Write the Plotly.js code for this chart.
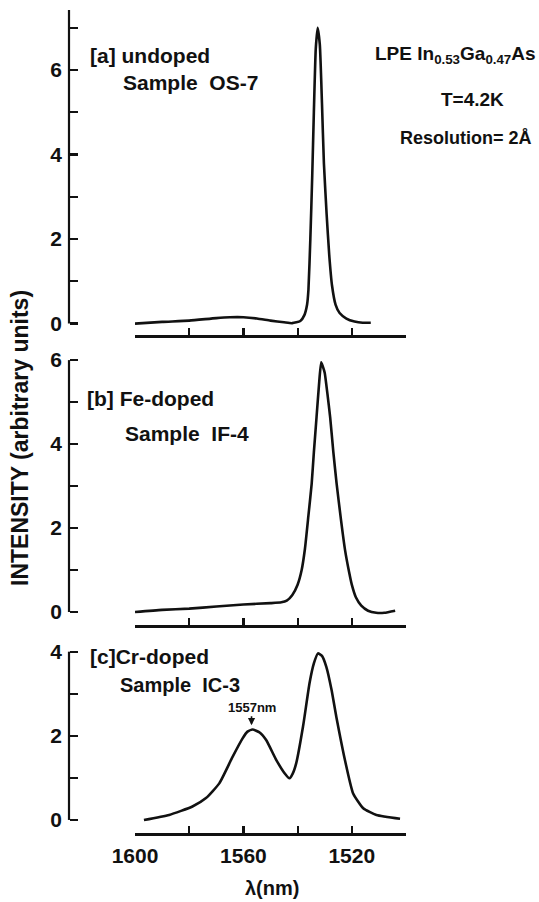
<!DOCTYPE html>
<html>
<head>
<meta charset="utf-8">
<script src="https://cdn.plot.ly/plotly-3.0.1.min.js"></script>
<style>html,body{margin:0;padding:0;background:#fff;}</style>
</head>
<body>
<div id="chart" style="width:539px;height:902px;"></div>
<script>
// ---- data (wavelength in nm, intensity in arbitrary units) ----
const nmA  = [1600,1590,1580,1570,1565,1560,1555,1550,1545,1542,1539,1537.5,1536.5,1536,1535.3,1534.6,1534,1533.3,1532.6,1531.8,1531,1530.3,1529.3,1528.3,1527.3,1526,1524.5,1522,1519,1516,1513];
const intA = [0.00,0.04,0.07,0.13,0.15,0.15,0.12,0.07,0.03,0.01,0.06,0.20,0.45,0.80,2.00,3.50,5.00,6.50,7.00,6.60,5.20,3.80,2.60,1.60,0.90,0.45,0.25,0.12,0.05,0.02,0.02];

const nmB  = [1600,1590,1580,1570,1560,1550,1546,1544,1542,1540,1538.5,1537.3,1536,1534.8,1534,1533,1532,1531.3,1530.7,1530,1529,1528,1526.8,1525.6,1524,1522.5,1521,1520,1518.5,1516.5,1514,1511,1508,1504];
const intB = [0.00,0.05,0.08,0.13,0.18,0.21,0.23,0.27,0.40,0.65,1.00,1.50,2.30,3.06,3.80,4.65,5.50,5.95,5.85,5.70,5.20,4.65,3.80,3.06,2.20,1.48,0.95,0.65,0.35,0.15,0.03,-0.02,-0.02,0.03];

const nmC  = [1596.7,1587.4,1578.8,1573.8,1568.9,1564.0,1560.3,1558.5,1556.6,1554.0,1551.6,1547.9,1544.8,1543.0,1541.8,1540.5,1538.0,1535.6,1534.0,1532.5,1531.0,1529.4,1527.5,1525.7,1522.0,1519.5,1515.8,1510.9,1502.2];
const intC = [0.00,0.12,0.32,0.52,0.87,1.50,1.94,2.10,2.15,2.08,1.90,1.43,1.11,0.99,1.10,1.35,2.22,3.25,3.72,3.96,3.90,3.64,3.10,2.45,1.27,0.63,0.28,0.12,0.03];

const xLabelVals  = [1600,1560,1520];
const xStep       = 20;
const yLabelsA    = [0,2,4,6];
const yLabelsB    = [0,2,4,6];
const yLabelsC    = [0,2,4];
const yStep       = 1;
const peakLabel   = '1557nm';
const peakNm      = 1557;

// ---- layout helpers (pixel -> paper) ----
const W = 539, H = 902;
const px = v => v / W;
const py = v => (H - v) / H;

const FONT = 'Liberation Sans, Arial, Helvetica, sans-serif';
const axX = px(69);
const xDom = [px(135), px(406)];

const rangeA = [-0.27, 7.42], rangeB = [-0.31, 6.05], rangeC = [-0.31, 4.04];

const lineStyle = {color: '#111', width: 2.6, shape: 'spline', smoothing: 0.5};
const traces = [
  {x: nmA, y: intA, xaxis: 'x',  yaxis: 'y',  mode: 'lines', line: lineStyle, hoverinfo: 'skip'},
  {x: nmB, y: intB, xaxis: 'x2', yaxis: 'y2', mode: 'lines', line: lineStyle, hoverinfo: 'skip'},
  {x: nmC, y: intC, xaxis: 'x3', yaxis: 'y3', mode: 'lines', line: lineStyle, hoverinfo: 'skip'}
];

function xAxis(anchor, labels) {
  return {
    domain: xDom, anchor: anchor, range: [1600, 1500],
    showgrid: false, zeroline: false,
    showline: true, linecolor: '#111', linewidth: 2.6,
    ticks: 'inside', ticklen: 7, tickwidth: 2.2, tickcolor: '#111',
    tickmode: 'array', tickvals: xLabelVals,
    minor: {tickmode: 'linear', tick0: 1500, dtick: xStep, ticks: 'inside', ticklen: 7, tickwidth: 2.2, tickcolor: '#111', showgrid: false},
    showticklabels: !!labels, ticklabelstandoff: 2,
    tickfont: {family: FONT, size: 21, color: '#111', weight: 'bold'}
  };
}
function yAxis(dom, range, vals) {
  return {
    domain: dom, range: range, anchor: 'free', position: axX, side: 'left',
    showgrid: false, zeroline: false, showline: false,
    ticks: 'inside', ticklen: 8, tickwidth: 2.2, tickcolor: '#111',
    tickmode: 'array', tickvals: vals,
    minor: {tickmode: 'linear', tick0: 0, dtick: yStep, ticks: 'inside', ticklen: 8, tickwidth: 2.2, tickcolor: '#111', showgrid: false},
    ticklabelstandoff: 7,
    tickfont: {family: FONT, size: 21, color: '#111', weight: 'bold'}
  };
}

function label(text, x, y, size, anchor) {
  return {text: text, xref: 'paper', yref: 'paper', x: px(x), y: py(y),
          xanchor: anchor || 'left', yanchor: 'middle', showarrow: false,
          font: {family: FONT, size: size, color: '#111', weight: 'bold'}};
}

const annotations = [
  label('[a] undoped', 88, 55, 21),
  label('Sample  OS-7', 121, 82, 21),
  label('LPE In<sub>0.53</sub>Ga<sub>0.47</sub>As', 538, 55, 19, 'right'),
  label('T=4.2K', 472, 100, 19, 'center'),
  label('Resolution= 2Å', 534, 138, 18, 'right'),
  label('[b] Fe-doped', 85, 398, 21),
  label('Sample  IF-4', 123, 433, 21),
  label('[c]Cr-doped', 88, 656, 21),
  label('Sample  IC-3', 118, 685, 20),
  label('λ(nm)', 272, 888, 20, 'center'),
  Object.assign(label('INTENSITY (arbitrary units)', 20, 438, 23, 'center'), {textangle: -90}),
  {text: peakLabel, xref: 'x3', yref: 'y3', x: peakNm, y: 2.25, ax: 0, ay: -18,
   showarrow: true, arrowhead: 2, arrowsize: 0.9, arrowwidth: 1.6, arrowcolor: '#111', standoff: 0,
   font: {family: FONT, size: 13, color: '#111', weight: 'bold'}}
];

function yLine(yref, top) {
  return {type: 'line', xref: 'paper', yref: yref, x0: axX, x1: axX, y0: 0, y1: top,
          line: {color: '#111', width: 2.2}};
}
const shapes = [yLine('y', rangeA[1]), yLine('y2', 6), yLine('y3', 4)];

const layout = {
  width: W, height: H,
  margin: {l: 0, r: 0, t: 0, b: 0},
  paper_bgcolor: '#fff', plot_bgcolor: 'rgba(0,0,0,0)',
  showlegend: false,
  xaxis: xAxis('y', false),
  xaxis2: xAxis('y2', false),
  xaxis3: xAxis('y3', true),
  yaxis: yAxis([py(335), py(10)], rangeA, yLabelsA),
  yaxis2: yAxis([py(625), py(358)], rangeB, yLabelsB),
  yaxis3: yAxis([py(833), py(650)], rangeC, yLabelsC),
  annotations: annotations,
  shapes: shapes
};

Plotly.newPlot('chart', traces, layout, {displayModeBar: false, staticPlot: true});
</script>
</body>
</html>
